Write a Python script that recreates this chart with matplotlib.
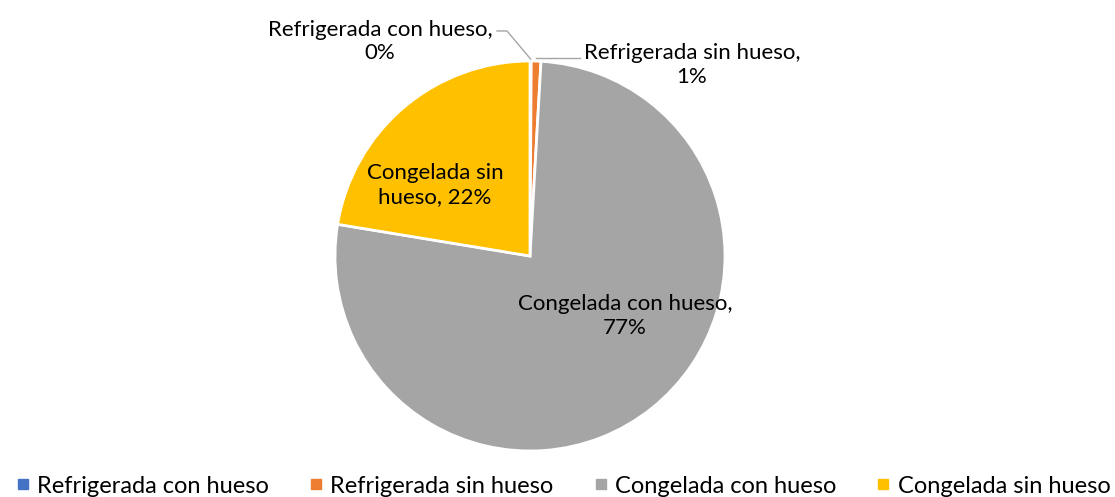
import matplotlib.pyplot as plt
from matplotlib.lines import Line2D
import numpy as np

plt.rcParams["font.family"] = ["Lato", "DejaVu Sans"]

categories = [
    "Refrigerada con hueso",
    "Refrigerada sin hueso",
    "Congelada con hueso",
    "Congelada sin hueso",
]
shares = [0.1, 0.8, 76.7, 22.4]
shown_pct = ["0%", "1%", "77%", "22%"]
colors = ["#4472C4", "#ED7D31", "#A5A5A5", "#FFC000"]

W, H = 1115, 497
fig = plt.figure(figsize=(W / 100, H / 100), dpi=100)

# pie centre and radius in pixels
cx, cy, r = 530, 256, 195
ax = fig.add_axes([(cx - r) / W, (H - cy - r) / H, 2 * r / W, 2 * r / H])

wedges, _ = ax.pie(
    shares,
    colors=colors,
    startangle=90,
    counterclock=False,
    radius=1,
    wedgeprops={"edgecolor": "white", "linewidth": 2},
)
# pie() resets the limits, so put them back after
ax.set_xlim(-1, 1)
ax.set_ylim(-1, 1)
ax.axis("off")

fs = 16
line_color = "#A5A5A5"


def mid_point(w, rad=1.0):
    a = np.deg2rad((w.theta1 + w.theta2) / 2)
    return rad * np.cos(a), rad * np.sin(a)


# small slices: labels outside with leader lines
x0, y0 = mid_point(wedges[0], 1.01)
ax.plot([-0.169, -0.118, x0], [1.154, 1.154, y0], color=line_color, lw=1,
        clip_on=False)
ax.text(-0.769, 1.10, f"{categories[0]},\n{shown_pct[0]}", ha="center",
        va="center", fontsize=fs, linespacing=1.2)

x1, y1 = mid_point(wedges[1], 1.01)
ax.plot([x1, 0.256], [1.015, 1.015], color=line_color, lw=1, clip_on=False)
ax.text(0.831, 0.979, f"{categories[1]},\n{shown_pct[1]}", ha="center",
        va="center", fontsize=fs, linespacing=1.2)

ax.text(0.487, -0.308, f"Congelada con hueso,\n{shown_pct[2]}", ha="center",
        va="center", fontsize=fs, linespacing=1.2)
ax.text(-0.487, 0.364, f"Congelada sin\nhueso, {shown_pct[3]}", ha="center",
        va="center", fontsize=fs, linespacing=1.2)

handles = [
    Line2D([], [], marker="s", linestyle="", markersize=7, color=c)
    for c in colors
]
fig.legend(
    handles,
    categories,
    loc="lower center",
    bbox_to_anchor=(0.505, -0.042),
    ncol=4,
    frameon=False,
    fontsize=17,
    handlelength=0.6,
    handletextpad=0.3,
    columnspacing=1.7,
)

fig.savefig("out.png", dpi=100)
